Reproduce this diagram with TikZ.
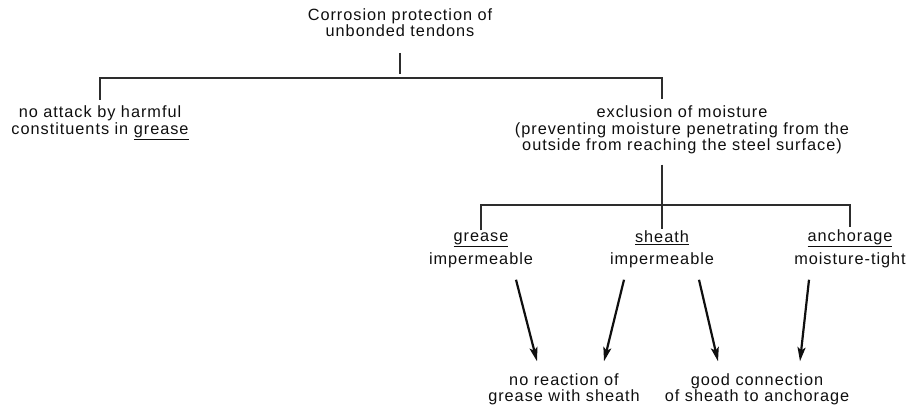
\documentclass[tikz,border=0pt]{standalone}
\usepackage{fontspec}
\setmainfont{Liberation Sans}[LetterSpace=6]
\usepackage{xcolor}
\usepackage{tikz}
\usetikzlibrary{arrows.meta,calc,positioning}
\definecolor{inkgrey}{RGB}{45,45,45}
\definecolor{inkblack}{RGB}{15,15,15}
\tikzset{
  txt/.style={align=center,inner sep=0pt,anchor=base,text=inkblack,
    font=\fontsize{16.3}{16.5}\selectfont,execute at begin node=\strut},
  tree/.style={draw=inkgrey,line width=1.2pt,shorten <=4pt,shorten >=4pt},
  flow/.style={-{Stealth[length=14pt,width=8pt,inset=3pt]},line width=2.2pt,draw=inkblack}
}
\begin{document}
\begin{tikzpicture}[x=1pt,y=1pt]
  \useasboundingbox (0,0) rectangle (919,405);
  % top level
  \node[txt] (root) at (400,368.3) {Corrosion protection of\\unbonded tendons};
  \node[txt] (attack) at (100,270.5) {no attack by harmful\\constituents in \underline{grease}};
  \node[txt] (moist) at (682,254.5) {exclusion of moisture\\
  (preventing moisture penetrating from the\\outside from reaching the steel surface)};
  \coordinate (fork1) at (400,327);
  \draw[tree,shorten <=11pt] (root.south) -- (fork1);
  \draw[tree,shorten <=6pt,shorten >=6pt] (attack.north) |- (fork1) -| ([xshift=-20pt]moist.north);
  % second level
  \node[txt] (grease) at (481,141) {\underline{grease}\\[4.5pt]impermeable};
  \node[txt] (sheath) at (662,141) {\underline{sheath}\\[4.5pt]impermeable};
  \node[txt] (anchor) at (850,141) {\underline{anchorage}\\[4.5pt]moisture-tight};
  \coordinate (fork2) at (662,200);
  \draw[tree,shorten <=9pt,shorten >=2pt] ([xshift=-20pt]moist.south) -- (sheath.north);
  \draw[tree,shorten <=2pt,shorten >=2pt] (grease.north) |- (fork2) -| (anchor.north);
  % results
  \node[txt] (noreact) at (564,3.2) {no reaction of\\grease with sheath};
  \node[txt] (goodcon) at (757,3.2) {good connection\\of sheath to anchorage};
  \draw[flow] ([shift={(35,-10.6)}]grease.south) -- ([shift={(-27,12)}]noreact.north);
  \draw[flow] ([shift={(-38,-10.6)}]sheath.south) -- ([shift={(40,12)}]noreact.north);
  \draw[flow] ([shift={(37,-10.6)}]sheath.south) -- ([shift={(-39,12)}]goodcon.north);
  \draw[flow] ([shift={(-41,-10.6)}]anchor.south) -- ([shift={(43,12)}]goodcon.north);
\end{tikzpicture}
\end{document}
